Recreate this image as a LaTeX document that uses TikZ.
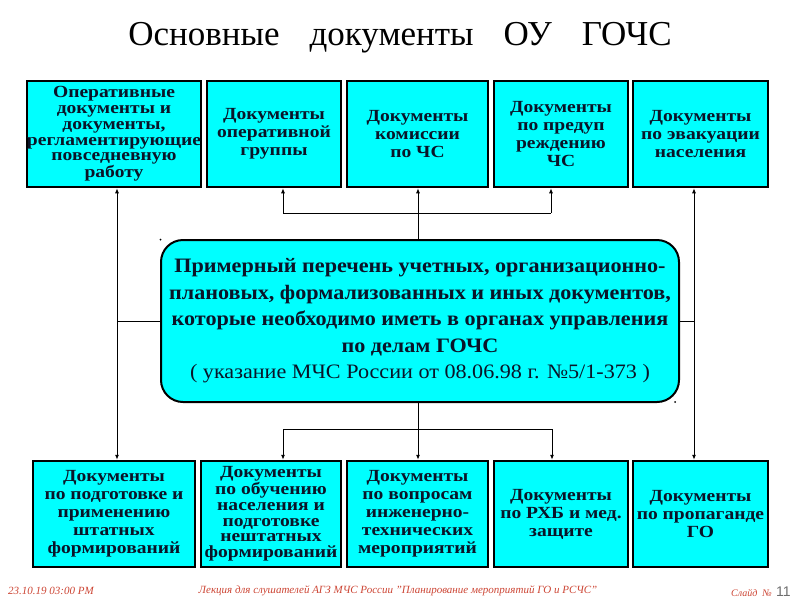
\documentclass[tikz,border=0pt]{standalone}
\usepackage{fontspec}
\setmainfont{Liberation Serif}
\newfontfamily\boxfont[FakeStretch=1.15]{Liberation Serif}
\newfontfamily\midfont[FakeStretch=1.08]{Liberation Serif}
\newfontfamily\numfont{Liberation Sans}
\usetikzlibrary{arrows.meta}
\definecolor{cyanf}{RGB}{0,255,255}
\definecolor{txtc}{RGB}{10,20,40}
\definecolor{footred}{RGB}{204,68,51}
\definecolor{numgray}{RGB}{110,110,110}
\tikzset{
  docbox/.style={draw=black, line width=2.5pt, fill=cyanf, inner sep=0pt,
    align=center, text=txtc, minimum height=106pt,
    font=\boxfont\bfseries\fontsize{17}{18}\selectfont},
  tightbox/.style={docbox, font=\boxfont\bfseries\fontsize{17}{15.8}\selectfont},
  centerbox/.style={draw=black, line width=2pt, fill=cyanf, rounded corners=22pt,
    inner sep=0pt, align=center, text=txtc, minimum width=518pt, minimum height=162pt,
    font=\midfont\bfseries\fontsize{20.5}{26.5}\selectfont},
  link/.style={draw=black, line width=0.9pt},
  arr/.style={link, -{Latex[length=5pt,width=4pt]}},
  foot/.style={inner sep=0pt, text=footred, font=\itshape\fontsize{11}{13}\selectfont}
}
\begin{document}
\begin{tikzpicture}[x=1pt,y=-1pt]
\useasboundingbox (0,0) rectangle (800,600);
% title
\node[inner sep=0pt, font=\fontsize{35}{40}\selectfont] (title) at (400,38)
  {Основные\hspace{30pt}документы\hspace{30pt}ОУ\hspace{30pt}ГОЧС};
% top boxes
\node[tightbox, minimum width=174pt] (t1) at (114,134)
  {Оперативные\\документы и\\документы,\\регламентирующие\\повседневную\\работу};
\node[docbox, minimum width=134pt] (t2) at (274,134) {Документы\\оперативной\\группы};
\node[docbox, minimum width=141pt] (t3) at (417.5,134) {Документы\\комиссии\\по ЧС};
\node[docbox, minimum width=134pt] (t4) at (561,134) {Документы\\по предуп\\реждению\\ЧС};
\node[docbox, minimum width=135pt] (t5) at (700.5,134) {Документы\\по эвакуации\\населения};
% bottom boxes
\node[docbox, minimum width=162pt] (b1) at (114,514)
  {Документы\\по подготовке и\\применению\\штатных\\формирований};
\node[tightbox, minimum width=140pt] (b2) at (271,514)
  {Документы\\по обучению\\населения и\\подготовке\\нештатных\\формирований};
\node[docbox, minimum width=141pt] (b3) at (417.5,514)
  {Документы\\по вопросам\\инженерно-\\технических\\мероприятий};
\node[docbox, minimum width=134pt] (b4) at (561,514) {Документы\\по РХБ и мед.\\защите};
\node[docbox, minimum width=135pt] (b5) at (700.5,514) {Документы\\по пропаганде\\ГО};
% central box
\node[centerbox] (c) at (420,321)
  {Примерный перечень учетных, организационно-\\
   плановых, формализованных и иных документов,\\
   которые необходимо иметь в органах управления\\
   по делам ГОЧС\\
   {\mdseries ( указание МЧС России от 08.06.98 г. №5/1-373 )}};
% junction coordinates
\coordinate (L) at (117,321);
\coordinate (R) at (694,321);
\coordinate (tj) at (418,213);
\coordinate (tl) at (283,213);
\coordinate (tr) at (551,213);
\coordinate (bj) at (418,429);
\coordinate (bl) at (283,429);
\coordinate (br) at (552,429);
% left and right
\draw[link] (c.west |- L) -- (L);
\draw[arr] (L) -- (t1.south -| L);
\draw[arr] (L) -- (b1.north -| L);
\draw[link] (c.east |- R) -- (R);
\draw[arr] (R) -- (t5.south -| R);
\draw[arr] (R) -- (b5.north -| R);
% top
\draw[link] (c.north -| tj) -- (tj);
\draw[arr] (tj) -- (t3.south -| tj);
\draw[link] (tl) -- (tr);
\draw[arr] (tl) -- (t2.south -| tl);
\draw[arr] (tr) -- (t4.south -| tr);
% bottom
\draw[link] (c.south -| bj) -- (bj);
\draw[arr] (bj) -- (b3.north -| bj);
\draw[link] (bl) -- (br);
\draw[arr] (bl) -- (b2.north -| bl);
\draw[arr] (br) -- (b4.north -| br);
% small dots
\fill[black] (160.5,239.5) circle (1pt);
\fill[black] (675,402) circle (1pt);
% footer
\node[foot, anchor=west] (date) at (8,591) {23.10.19 03:00 PM};
\node[foot] (lect) at (398,591) {Лекция для слушателей АГЗ МЧС России "Планирование мероприятий ГО и РСЧС"};
\node[foot, anchor=base east, font=\itshape\fontsize{10}{12}\selectfont] (slide) at (772,596) {Слайд \ №};
\node[inner sep=0pt, anchor=base west, text=numgray, font=\numfont\fontsize{14}{16}\selectfont] (num) at (776,596) {11};
\end{tikzpicture}
\end{document}
